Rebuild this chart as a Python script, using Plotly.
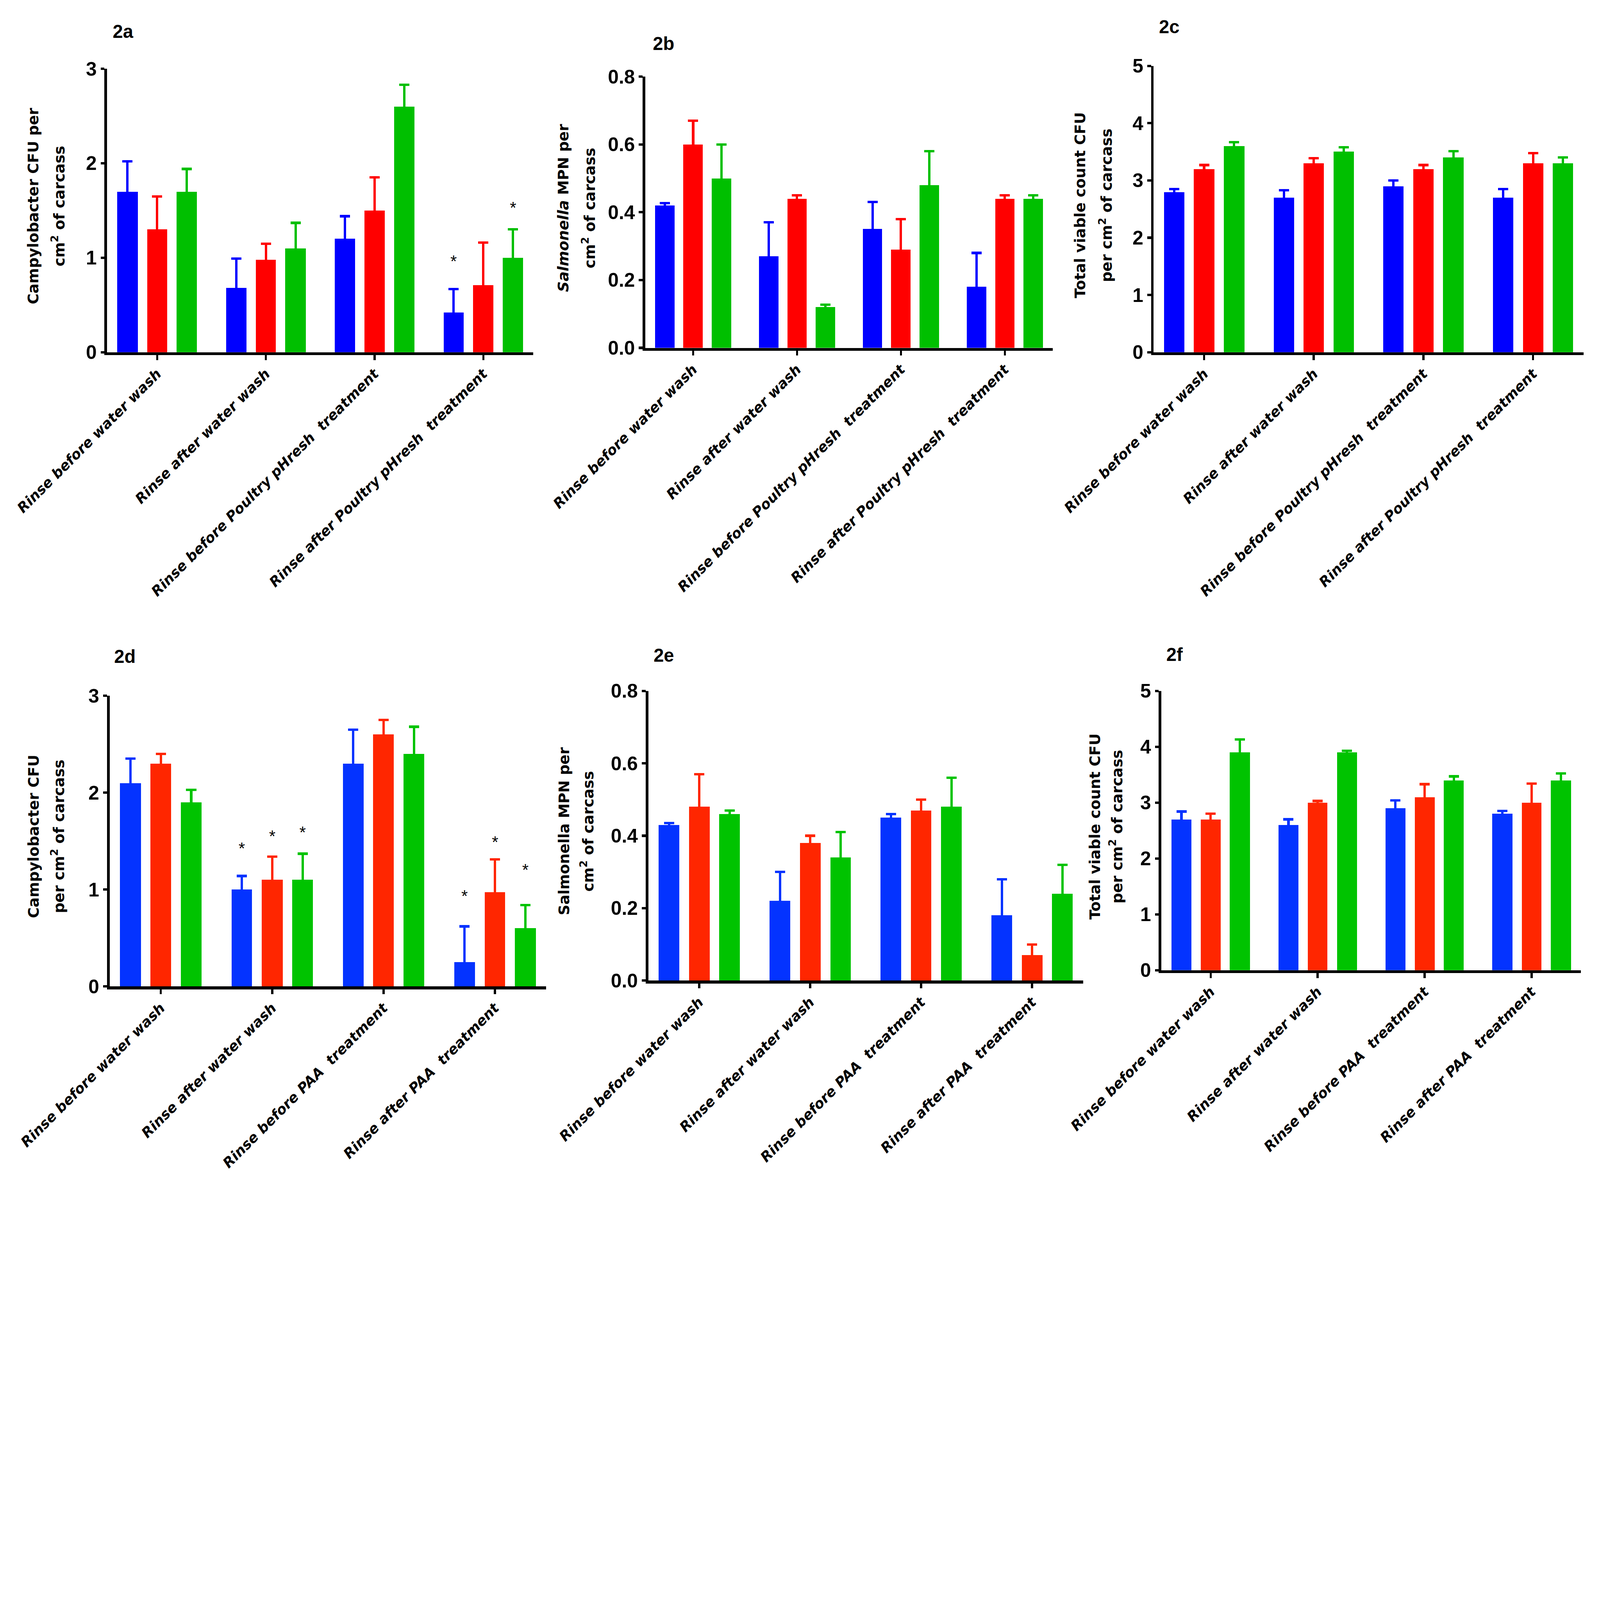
import plotly.graph_objects as go

W, H = 6600, 4909

# ---------------- data ----------------
categories_top = ["Rinse before water wash", "Rinse after water wash",
                  "Rinse before Poultry pHresh\u00a0 treatment",
                  "Rinse after Poultry pHresh\u00a0 treatment"]
categories_bottom = ["Rinse before water wash", "Rinse after water wash",
                     "Rinse before PAA\u00a0 treatment",
                     "Rinse after PAA\u00a0 treatment"]

# 2a Campylobacter (Poultry pHresh)
a_blue = [1.7, 0.68, 1.2, 0.42]
a_blue_err = [0.32, 0.31, 0.24, 0.25]
a_red = [1.3, 0.98, 1.5, 0.71]
a_red_err = [0.35, 0.17, 0.35, 0.45]
a_green = [1.7, 1.1, 2.6, 1.0]
a_green_err = [0.24, 0.27, 0.23, 0.30]
a_star_blue = [None, None, None, 1.0]
a_star_red = [None, None, None, None]
a_star_green = [None, None, None, 1.57]

# 2b Salmonella (Poultry pHresh)
b_blue = [0.42, 0.27, 0.35, 0.18]
b_blue_err = [0.007, 0.10, 0.08, 0.10]
b_red = [0.60, 0.44, 0.29, 0.44]
b_red_err = [0.07, 0.01, 0.09, 0.01]
b_green = [0.50, 0.12, 0.48, 0.44]
b_green_err = [0.10, 0.007, 0.10, 0.01]

# 2c Total viable count (Poultry pHresh)
c_blue = [2.8, 2.7, 2.9, 2.7]
c_blue_err = [0.05, 0.13, 0.10, 0.15]
c_red = [3.2, 3.3, 3.2, 3.3]
c_red_err = [0.07, 0.09, 0.07, 0.18]
c_green = [3.6, 3.5, 3.4, 3.3]
c_green_err = [0.07, 0.08, 0.11, 0.10]

# 2d Campylobacter (PAA)
d_blue = [2.1, 1.0, 2.3, 0.25]
d_blue_err = [0.25, 0.14, 0.35, 0.37]
d_red = [2.3, 1.1, 2.6, 0.97]
d_red_err = [0.10, 0.24, 0.15, 0.34]
d_green = [1.9, 1.1, 2.4, 0.60]
d_green_err = [0.13, 0.27, 0.28, 0.24]
d_star_blue = [None, 1.46, None, 0.97]
d_star_red = [None, 1.59, None, 1.53]
d_star_green = [None, 1.63, None, 1.24]

# 2e Salmonella (PAA)
e_blue = [0.43, 0.22, 0.45, 0.18]
e_blue_err = [0.005, 0.08, 0.01, 0.10]
e_red = [0.48, 0.38, 0.47, 0.07]
e_red_err = [0.09, 0.02, 0.03, 0.03]
e_green = [0.46, 0.34, 0.48, 0.24]
e_green_err = [0.01, 0.07, 0.08, 0.08]

# 2f Total viable count (PAA)
f_blue = [2.7, 2.6, 2.9, 2.8]
f_blue_err = [0.14, 0.10, 0.14, 0.05]
f_red = [2.7, 3.0, 3.1, 3.0]
f_red_err = [0.10, 0.03, 0.23, 0.34]
f_green = [3.9, 3.9, 3.4, 3.4]
f_green_err = [0.23, 0.03, 0.07, 0.12]

ticks_campy = [0, 1, 2, 3]
ticks_salm = [0.0, 0.2, 0.4, 0.6, 0.8]
ticks_tvc = [0, 1, 2, 3, 4, 5]

# ---------------- styles / layout ----------------
top_colors = ["#0000FF", "#FF0000", "#00BF00"]
bottom_colors = ["#0433FF", "#FF2600", "#00C300"]

NUM_FONT = dict(family="Liberation Sans, Arial, sans-serif", size=80, color="black", weight="bold")
CAT_FONT = dict(family="DejaVu Sans, sans-serif", size=58, color="black", weight="bold", style="italic")
TITLE_FONT_FAMILY = "DejaVu Sans, sans-serif"
TITLE_SIZE = 61

SLOT = 0.273
BAR_W = 0.186
XPAD = 0.46

panels = [
    dict(name="2a", series=[(a_blue, a_blue_err), (a_red, a_red_err), (a_green, a_green_err)],
         stars=[a_star_blue, a_star_red, a_star_green], cats=categories_top, colors=top_colors,
         ticks=ticks_campy, fmt="d", x0=442, x1=2200, y0=284, y1=1453,
         label_xy=(463, 158),
         ytitle=["Campylobacter CFU per", "cm<sup>2</sup> of carcass"], ybase=[159, 267], ycy=850),
    dict(name="2b", series=[(b_blue, b_blue_err), (b_red, b_red_err), (b_green, b_green_err)],
         stars=None, cats=categories_top, colors=top_colors,
         ticks=ticks_salm, fmt=".1f", x0=2662, x1=4342, y0=316, y1=1435,
         label_xy=(2691, 208),
         ytitle=["<i>Salmonella</i> MPN per", "cm<sup>2</sup> of carcass"], ybase=[2345, 2455], ycy=858),
    dict(name="2c", series=[(c_blue, c_blue_err), (c_red, c_red_err), (c_green, c_green_err)],
         stars=None, cats=categories_top, colors=top_colors,
         ticks=ticks_tvc, fmt="d", x0=4759, x1=6532, y0=272, y1=1453,
         label_xy=(4779, 138),
         ytitle=["Total viable count CFU", "per cm<sup>2</sup> of carcass"], ybase=[4477, 4588], ycy=847),
    dict(name="2d", series=[(d_blue, d_blue_err), (d_red, d_red_err), (d_green, d_green_err)],
         stars=[d_star_blue, d_star_red, d_star_green], cats=categories_bottom, colors=bottom_colors,
         ticks=ticks_campy, fmt="d", x0=452, x1=2253, y0=2870, y1=4069,
         label_xy=(469, 2735),
         ytitle=["Campylobacter CFU", "per cm<sup>2</sup> of carcass"], ybase=[160, 265], ycy=3450),
    dict(name="2e", series=[(e_blue, e_blue_err), (e_red, e_red_err), (e_green, e_green_err)],
         stars=None, cats=categories_bottom, colors=bottom_colors,
         ticks=ticks_salm, fmt=".1f", x0=2674, x1=4468, y0=2850, y1=4045,
         label_xy=(2694, 2731),
         ytitle=["Salmonella MPN per", "cm<sup>2</sup> of carcass"], ybase=[2348, 2449], ycy=3429),
    dict(name="2f", series=[(f_blue, f_blue_err), (f_red, f_red_err), (f_green, f_green_err)],
         stars=None, cats=categories_bottom, colors=bottom_colors,
         ticks=ticks_tvc, fmt="d", x0=4791, x1=6521, y0=2850, y1=4002,
         label_xy=(4809, 2728),
         ytitle=["Total viable count CFU", "per cm<sup>2</sup> of carcass"], ybase=[4538, 4630], ycy=3410),
]

fig = go.Figure()
layout = dict(width=W, height=H, margin=dict(l=0, r=0, t=0, b=0),
              paper_bgcolor="white", plot_bgcolor="white", showlegend=False,
              bargap=0, annotations=[])

for p_i, p in enumerate(panels, start=1):
    xa = "x" if p_i == 1 else f"x{p_i}"
    ya = "y" if p_i == 1 else f"y{p_i}"
    xkey = "xaxis" if p_i == 1 else f"xaxis{p_i}"
    ykey = "yaxis" if p_i == 1 else f"yaxis{p_i}"
    n = len(p["cats"])
    for k, ((vals, errs), col) in enumerate(zip(p["series"], p["colors"])):
        xs = [i + (k - 1) * SLOT for i in range(n)]
        # only the upper part of each error bar is visible; the lower end is
        # tucked inside the bar (same colour) so no cap shows at the bar top
        hidden_minus = [v * 0.5 for v in vals]
        fig.add_trace(go.Bar(
            x=xs, y=vals, width=BAR_W, marker=dict(color=col, line=dict(width=0)),
            error_y=dict(type="data", array=errs, arrayminus=hidden_minus, symmetric=False,
                         color=col, thickness=10, width=21),
            xaxis=xa, yaxis=ya, hoverinfo="skip"))
        if p["stars"]:
            for i, sy in enumerate(p["stars"][k]):
                if sy is None:
                    continue
                layout["annotations"].append(dict(
                    x=xs[i], y=sy, xref=xa, yref=ya, text="*", showarrow=False,
                    xanchor="center", yanchor="middle", yshift=-14,
                    font=dict(family="Liberation Sans, Arial, sans-serif", size=68, color="black")))
    ymax = p["ticks"][-1]
    layout[xkey] = dict(domain=[p["x0"] / W, p["x1"] / W], anchor=ya,
                        range=[-XPAD, n - 1 + XPAD], tickmode="array",
                        tickvals=list(range(n)), ticktext=p["cats"], tickangle=-45,
                        tickfont=CAT_FONT, ticks="outside", ticklen=20, tickwidth=9,
                        tickcolor="black", showline=True, linewidth=12, linecolor="black",
                        showgrid=False, zeroline=False, automargin=False, fixedrange=True)
    layout[ykey] = dict(domain=[1 - p["y1"] / H, 1 - p["y0"] / H], anchor=xa,
                        range=[0, ymax], tickmode="array", tickvals=p["ticks"],
                        tickformat=p["fmt"], tickfont=NUM_FONT, ticks="outside",
                        ticklen=16, tickwidth=10, tickcolor="black", showline=True,
                        linewidth=11, linecolor="black", showgrid=False, zeroline=False,
                        automargin=False, fixedrange=True)
    # panel label
    lx, lb = p["label_xy"]
    layout["annotations"].append(dict(
        x=lx / W, y=1 - (lb + 17) / H, xref="paper", yref="paper", text=p["name"],
        showarrow=False, xanchor="left", yanchor="bottom",
        font=dict(family="Liberation Sans, Arial, sans-serif", size=76, color="black", weight="bold")))
    # y-axis title, one annotation per line
    for line, base in zip(p["ytitle"], p["ybase"]):
        layout["annotations"].append(dict(
            x=(base + 15) / W, y=1 - p["ycy"] / H, xref="paper", yref="paper", text=line,
            showarrow=False, textangle=-90, xanchor="right", yanchor="middle",
            font=dict(family=TITLE_FONT_FAMILY, size=TITLE_SIZE, color="black", weight="bold")))

fig.update_layout(**layout)

# scale the fixed-size figure to fit whatever viewport the page is opened in
post = """
(function(){
  var gd = document.getElementById('{plot_id}');
  document.documentElement.style.margin = '0';
  document.documentElement.style.overflow = 'hidden';
  document.body.style.margin = '0';
  document.body.style.padding = '0';
  document.body.style.overflow = 'hidden';
  var s = Math.min(window.innerWidth / %d, window.innerHeight / %d);
  var wrap = gd.parentNode;
  wrap.style.width = (%d * s) + 'px';
  wrap.style.height = (%d * s) + 'px';
  wrap.style.overflow = 'hidden';
  gd.style.transformOrigin = '0 0';
  gd.style.transform = 'scale(' + s + ')';
})();
""" % (W, H, W, H)

fig.write_html("out.html", post_script=post, config={"displayModeBar": False})
